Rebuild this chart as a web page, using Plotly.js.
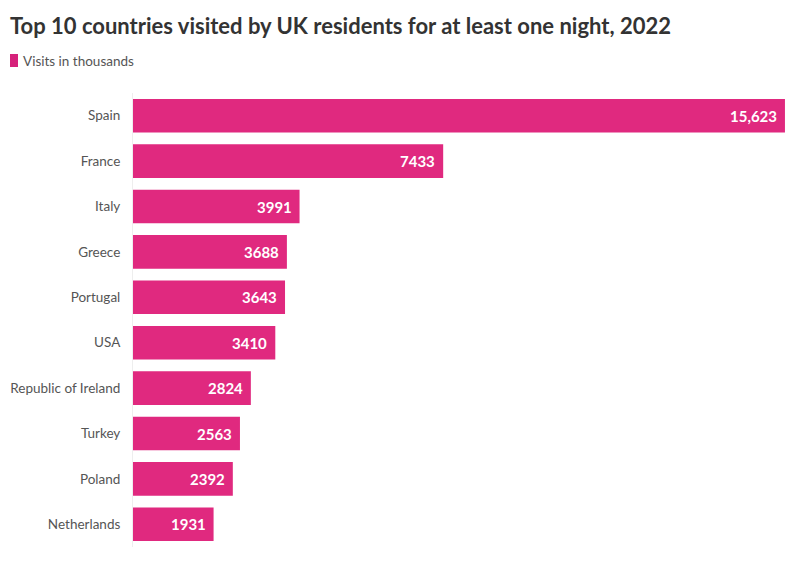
<!DOCTYPE html>
<html>
<head>
<meta charset="utf-8">
<script src="https://cdn.plot.ly/plotly-3.0.1.min.js"></script>
<style>
  html, body { margin: 0; padding: 0; background: #ffffff; }
  #chart { width: 800px; height: 566px; }
</style>
</head>
<body>
<div id="chart"></div>
<script>
// Top 10 destinations of UK residents (visits of at least one night), 2022
const countries = ["Spain", "France", "Italy", "Greece", "Portugal", "USA",
                   "Republic of Ireland", "Turkey", "Poland", "Netherlands"];
const visits = [15623, 7433, 3991, 3688, 3643, 3410, 2824, 2563, 2392, 1931];
const valueLabels = ["15,623", "7433", "3991", "3688", "3643", "3410", "2824", "2563", "2392", "1931"];
const seriesName = "Visits in thousands";

const pink = "#e0297f";
const fontFamily = "Lato, 'Open Sans', 'DejaVu Sans', sans-serif";

// plot area geometry (pixels)
const W = 800, H = 566;
const mL = 133, mR = 10, mT = 93, mB = 19;
const plotW = W - mL - mR;
const px2paperX = px => (px - mL) / plotW;

const trace = {
  type: "bar",
  orientation: "h",
  name: seriesName,
  y: countries,
  x: visits,
  marker: { color: pink },
  hoverinfo: "y+x",
  showlegend: false
};

// value labels sit inside the end of each bar
const valueAnnotations = countries.map((c, i) => ({
  x: visits[i],
  y: c,
  xref: "x",
  yref: "y",
  text: "<b>" + valueLabels[i] + "</b>",
  showarrow: false,
  xanchor: "right",
  yanchor: "middle",
  xshift: -6,
  font: { family: fontFamily, size: 15, color: "#ffffff" }
}));

// legend: small pink key followed by the series name
const legendAnnotation = {
  x: px2paperX(21),
  y: 1 - (61 - mT) / (H - mT - mB),
  xref: "paper",
  yref: "paper",
  text: seriesName,
  showarrow: false,
  xanchor: "left",
  yanchor: "middle",
  font: { family: fontFamily, size: 13.5, color: "#555555" }
};

const plotH = H - mT - mB;
const py2paperY = py => 1 - (py - mT) / plotH;

const layout = {
  width: W,
  height: H,
  paper_bgcolor: "#ffffff",
  plot_bgcolor: "#ffffff",
  margin: { l: mL, r: mR, t: mT, b: mB },
  bargap: 0.26,
  title: {
    text: "<b>Top 10 countries visited by UK residents for at least one night, 2022</b>",
    font: { family: fontFamily, size: 22, color: "#333333" },
    x: 10 / W,
    xref: "container",
    xanchor: "left",
    y: 1 - 26 / H,
    yref: "container",
    yanchor: "middle"
  },
  showlegend: false,
  annotations: valueAnnotations.concat([legendAnnotation]),
  shapes: [
    {
      type: "rect",
      xref: "paper",
      yref: "paper",
      x0: px2paperX(10),
      x1: px2paperX(18),
      y0: py2paperY(67),
      y1: py2paperY(54),
      fillcolor: "#d6227b",
      line: { width: 0 }
    }
  ],
  xaxis: {
    range: [0, 15744],
    visible: false,
    fixedrange: true
  },
  yaxis: {
    autorange: "reversed",
    showline: true,
    linecolor: "#eeeeee",
    linewidth: 1,
    showgrid: false,
    zeroline: false,
    ticks: "",
    ticklabelstandoff: 9,
    tickfont: { family: fontFamily, size: 13.5, color: "#555555" },
    fixedrange: true
  }
};

Plotly.newPlot("chart", [trace], layout, { displayModeBar: false, staticPlot: true });
</script>
</body>
</html>
